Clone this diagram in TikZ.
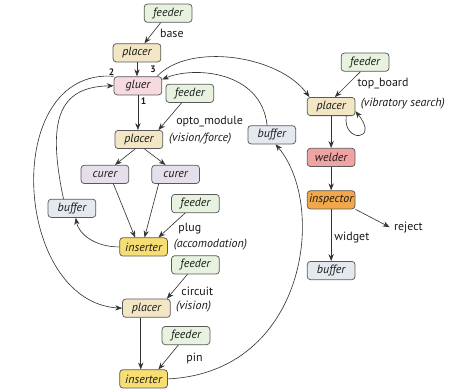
\documentclass[tikz,border=0pt]{standalone}
\usepackage{fontspec}
\setmainfont{PT Sans}
\usetikzlibrary{arrows.meta}
\definecolor{feedcol}{HTML}{E8F3DF}
\definecolor{placecol}{HTML}{F2E6C4}
\definecolor{gluecol}{HTML}{F7DADF}
\definecolor{curecol}{HTML}{E5DEEB}
\definecolor{bufcol}{HTML}{E3E9EF}
\definecolor{inscol}{HTML}{F7DE72}
\definecolor{weldcol}{HTML}{EFA3A3}
\definecolor{inspcol}{HTML}{F2A84A}

\begin{document}
\begin{tikzpicture}[x=0.75pt,y=-0.75pt,
  every node/.style={font=\fontsize{9.5}{11}\selectfont,text=black!90},
  stn/.style={draw=black!65,line width=0.6pt,rounded corners=2.5pt,minimum width=38pt,
    minimum height=14.5pt,inner sep=1pt,font=\fontsize{9.5}{11}\selectfont\itshape},
  feedbox/.style={stn,fill=feedcol},
  placebox/.style={stn,fill=placecol},
  gluebox/.style={stn,fill=gluecol},
  curebox/.style={stn,fill=curecol},
  bufbox/.style={stn,fill=bufcol},
  insbox/.style={stn,fill=inscol},
  weldbox/.style={stn,fill=weldcol},
  inspbox/.style={stn,fill=inspcol},
  num/.style={font=\fontsize{7.5}{8}\selectfont\bfseries,inner sep=1pt},
  flow/.style={draw=black!80,line width=0.5pt,-{Stealth[length=5.5pt,width=4.2pt]}}]
\path (0,0) rectangle (449,415);

\node[feedbox] (feed1) at (153,14) {feeder};
\node[placebox] (place1) at (120,56) {placer};
\node[gluebox] (gluer) at (121,91) {gluer};
\node[feedbox] (feed2) at (176,99) {feeder};
\node[placebox] (place2) at (122,148) {placer};
\node[curebox] (cure1) at (86,185) {curer};
\node[curebox] (cure2) at (161,185) {curer};
\node[bufbox] (bufL) at (51,221) {buffer};
\node[feedbox] (feed3) at (182,216) {feeder};
\node[insbox] (ins1) at (127,262) {inserter};
\node[feedbox] (feed4) at (182,281) {feeder};
\node[placebox] (place3) at (130,327) {placer};
\node[feedbox] (feed5) at (172,356) {feeder};
\node[insbox] (ins2) at (127,402) {inserter};
\node[bufbox] (bufM) at (263,143) {buffer};
\node[feedbox] (feedR) at (362,66) {feeder};
\node[placebox] (placeR) at (326,113) {placer};
\node[weldbox] (weld) at (326,167) {welder};
\node[inspbox] (insp) at (326,212) {inspector};
\node[bufbox] (bufR) at (326,287) {buffer};
\node (reject) at (408,241) {reject};

\node (lbase) at (157,35) {base};
\node[num] (n2) at (93,77) {2};
\node[num] (n3) at (137,74) {3};
\node[num] (n1) at (127,107) {1};
\node (lopto) at (197,129) {opto\_module};
\node (lvf) at (187,147) {\itshape (vision/force)};
\node (lplug) at (176,242) {plug};
\node (lacc) at (198,259) {\itshape (accomodation)};
\node (lcirc) at (184,309) {circuit};
\node (lvis) at (180,325) {\itshape (vision)};
\node (lpin) at (181,380) {pin};
\node (ltop) at (381,89) {top\_board};
\node (lvib) at (402,110) {\itshape (vibratory search)};
\node (lwid) at (348,252) {widget};

\draw[flow] (feed1) -- (place1);
\draw[flow] (place1.south) -- (place1.south |- gluer.north);
\draw[flow] (gluer.south) -- (gluer.south |- place2.north);
\draw[flow] (feed2) -- ([xshift=-3.75pt]place2.north east);
\draw[flow] ([xshift=-3pt]place2.south) -- ([xshift=8pt]cure1.north);
\draw[flow] ([xshift=4.5pt]place2.south) -- ([xshift=-8pt]cure2.north);
\draw[flow] ([xshift=6.75pt]cure1.south) -- ([xshift=-6.75pt]ins1.north);
\draw[flow] ([xshift=-13.5pt]cure2.south) -- ([xshift=0.75pt]ins1.north);
\draw[flow] (feed3) -- ([xshift=-7.5pt]ins1.north east);
\draw[flow] (ins1.west) .. controls (75,262) and (58,248) .. ([xshift=3pt]bufL.south);
\draw[flow] ([xshift=-6.75pt]bufL.north) .. controls (25,130) and (35,92) .. (gluer.west);
\draw[flow] (gluer.north west) .. controls (-25,72) and (-12,320) .. (place3.west);
\draw[flow] ([xshift=-4pt]gluer.north east) .. controls (175,45) and (270,58) .. ([xshift=2pt]placeR.north west);
\draw[flow] ([xshift=-3.75pt]bufM.north) .. controls (252,75) and (180,70) .. ([yshift=5pt]gluer.east);
\draw[flow] (ins2.east) .. controls (300,395) and (322,218) .. ([xshift=3pt]bufM.south);
\draw[flow] (feed4) -- ([xshift=-3pt]place3.north east);
\draw[flow] ([xshift=-4.5pt]place3.south) -- ([xshift=-2.25pt]ins2.north);
\draw[flow] (feed5) -- ([xshift=-7.5pt]ins2.north east);
\draw[flow] ([xshift=-3.75pt]feedR.south) -- ([xshift=3pt]placeR.north);
\draw[flow] ([xshift=12pt]placeR.south) .. controls (338,152) and (378,150) .. ([yshift=-3.75pt]placeR.east);
\draw[flow] (placeR) -- (weld);
\draw[flow] (weld) -- (insp);
\draw[flow] (insp.south east) -- (reject.west);
\draw[flow] (insp) -- (bufR);
\end{tikzpicture}
\end{document}
